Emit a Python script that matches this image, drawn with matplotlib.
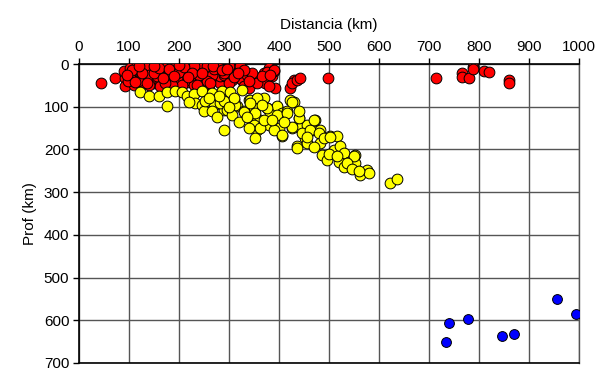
import matplotlib.pyplot as plt

plt.rcParams['font.family'] = ['Liberation Sans', 'DejaVu Sans']

# shallow events (red)
red_x = [43, 72, 92, 92, 89, 102, 105, 109, 122, 122, 132, 142, 145, 145, 149, 162, 159, 172,
         175, 182, 189, 195, 202, 212, 215, 225, 235, 239, 252, 259, 269, 275, 282, 292, 115, 135,
         165, 189, 179, 195, 212, 222, 242, 262, 282, 305, 315, 322, 309, 319, 312, 325, 329, 339,
         289, 299, 352, 362, 372, 369, 379, 385, 392, 389, 375, 389, 379, 422, 429, 425, 435, 442,
         497, 713, 765, 765, 779, 787, 787, 810, 819, 859, 859, 102, 122, 162, 205, 250, 130, 110,
         140, 155, 185, 230, 265, 300, 335, 355, 365, 230, 255, 300, 322, 345, 98, 118, 172, 195,
         255, 280, 140, 105, 125, 150, 160, 180, 200, 210, 240, 270, 290, 310, 330, 150, 120, 200,
         225, 245, 268, 285, 95, 112, 135, 168, 190, 218, 236, 262, 296, 318, 340, 382]
red_y = [45, 32, 33, 52, 17, 9, 33, 21, 29, 9, 17, 33, 13, 37, 45, 41, 17, 25,
         9, 37, 17, 41, 29, 17, 41, 29, 17, 41, 29, 48, 33, 17, 45, 29, 2, 2,
         2, 2, 22, 33, 14, 37, 10, 37, 29, 37, 10, 33, 9, 9, 29, 37, 52, 56,
         25, 45, 33, 33, 45, 21, 9, 29, 56, 17, 18, 14, 51, 57, 37, 45, 37, 33,
         33, 33, 20, 31, 33, 6, 12, 17, 19, 37, 44, 29, 33, 52, 48, 52, 45, 48,
         25, 28, 50, 50, 25, 20, 25, 45, 29, 5, 5, 5, 5, 20, 40, 40, 45, 22,
         40, 10, 50, 15, 20, 22, 10, 12, 18, 8, 25, 12, 22, 30, 15, 4, 5, 2,
         20, 22, 5, 15, 25, 42, 45, 32, 28, 30, 48, 44, 12, 20, 40, 25]

# intermediate events (yellow)
yel_x = [122, 139, 159, 175, 175, 192, 205, 215, 229, 232, 245, 245, 249, 265, 269, 285, 289, 289,
         295, 252, 282, 302, 309, 325, 339, 349, 369, 395, 429, 422, 289, 315, 295, 329, 342, 355,
         375, 352, 345, 355, 362, 382, 395, 405, 415, 379, 399, 405, 425, 439, 442, 455, 472, 465,
         482, 452, 435, 502, 515, 352, 312, 329, 342, 352, 349, 362, 369, 375, 395, 389, 405, 415,
         425, 425, 439, 445, 435, 455, 462, 469, 479, 482, 489, 502, 485, 495, 509, 522, 529, 519,
         529, 539, 552, 552, 562, 575, 579, 550, 535, 622, 636, 265, 305, 320, 335, 310, 280, 260,
         365, 385, 410, 440, 455, 470, 500, 515, 545, 560, 340, 300, 275, 220]
yel_y = [65, 75, 76, 65, 98, 64, 65, 76, 70, 91, 64, 96, 111, 68, 95, 64, 107, 154,
         87, 87, 92, 65, 84, 62, 84, 103, 80, 100, 88, 84, 87, 99, 107, 111, 84, 80,
         103, 122, 142, 154, 130, 115, 99, 115, 111, 142, 150, 169, 150, 126, 150, 142, 130, 154,
         154, 173, 193, 169, 169, 174, 96, 112, 92, 115, 143, 151, 131, 104, 119, 155, 166, 115,
         147, 88, 127, 162, 197, 186, 154, 131, 162, 186, 174, 170, 213, 225, 201, 193, 209, 229,
         240, 229, 213, 232, 260, 248, 256, 215, 232, 278, 269, 110, 120, 135, 125, 80, 75, 80,
         95, 130, 135, 110, 170, 195, 210, 215, 245, 250, 150, 100, 125, 90]

# deep events (blue)
blue_x = [739, 734, 777, 845, 869, 955, 993]
blue_y = [606, 650, 598, 636, 631, 550, 586]

fig = plt.figure(figsize=(5.99, 3.68), dpi=100)
ax = fig.add_axes([79 / 599, 5 / 368, 500 / 599, 299 / 368])

ax.scatter(red_x, red_y, s=60, c='#ff0000', edgecolors='black', linewidths=0.7, zorder=3)
ax.scatter(yel_x, yel_y, s=60, c='#ffff00', edgecolors='black', linewidths=0.7, zorder=4)
ax.scatter(blue_x, blue_y, s=50, c='#0000ff', edgecolors='black', linewidths=0.7, zorder=5)

ax.set_xlim(0, 1000)
ax.set_ylim(700, 0)
ax.set_xticks(range(0, 1001, 100))
ax.set_yticks(range(0, 701, 100))
ax.xaxis.tick_top()
ax.xaxis.set_label_position('top')
ax.set_xlabel('Distancia (km)', fontsize=11, labelpad=8)
ax.set_ylabel('Prof (km)', fontsize=11, labelpad=5)
ax.tick_params(labelsize=11, direction='out', length=4, width=1, pad=3, color='black')
ax.grid(True, color='#555555', linewidth=1)
ax.set_axisbelow(True)
for sp in ax.spines.values():
    sp.set_linewidth(1.2)
    sp.set_color('black')
ax.spines['right'].set_color('#555555')
ax.spines['right'].set_linewidth(1)

fig.savefig('out.png', dpi=100)
